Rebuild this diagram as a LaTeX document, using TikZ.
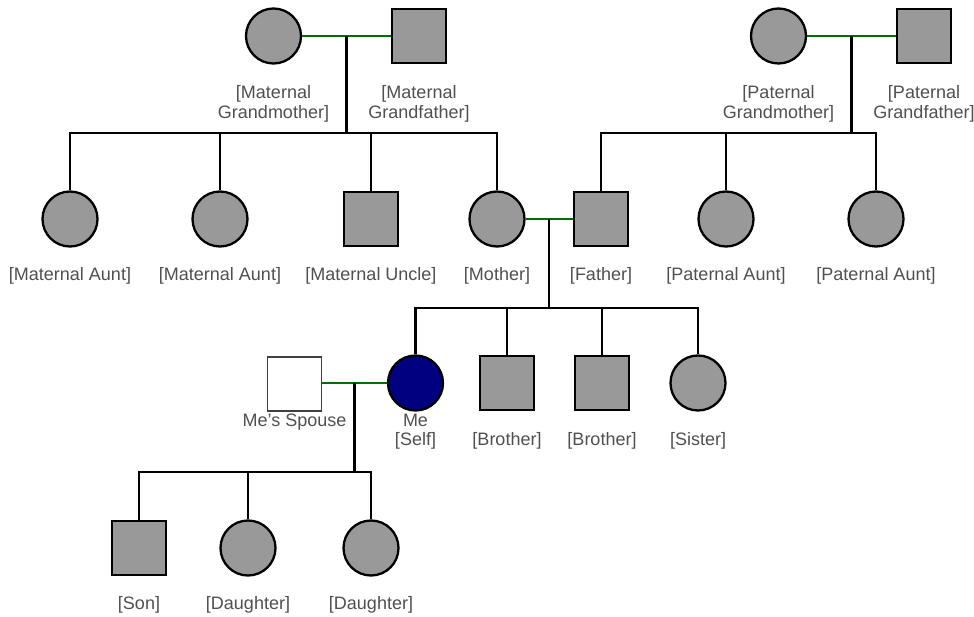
\documentclass[tikz,border=0pt]{standalone}
\usepackage{fontspec}
\setmainfont{Liberation Sans}
\usetikzlibrary{calc}
\definecolor{personfill}{RGB}{153,153,153}
\definecolor{selffill}{RGB}{0,0,128}
\definecolor{marriagegreen}{RGB}{0,110,0}
\definecolor{labelgray}{RGB}{80,80,80}
\tikzset{
  female/.style={circle,draw=black,line width=2.3pt,fill=personfill,minimum size=55pt,inner sep=0pt},
  male/.style={rectangle,draw=black,line width=2.3pt,fill=personfill,minimum size=54pt,inner sep=0pt},
  selfnode/.style={female,fill=selffill},
  spousenode/.style={male,fill=white,draw=black!75,line width=1.4pt},
  lbl/.style={text=labelgray,font=\fontsize{18}{19.5}\selectfont,align=center,inner sep=0pt},
  marriage/.style={draw=marriagegreen,line width=2.3pt},
  kin/.style={draw=black,line width=2.3pt}
}
\begin{document}
\begin{tikzpicture}[x=1pt,y=-1pt]
\useasboundingbox[fill=white] (0,0) rectangle (974,617);

% grandparents
\node[female] (mgm) at (273.5,36) {};
\node[male]   (mgf) at (419,36) {};
\node[female] (pgm) at (778.5,36) {};
\node[male]   (pgf) at (924,36) {};
\node[lbl] (mgmL) at (273.5,104) {[Maternal\\Grandmother]};
\node[lbl] (mgfL) at (419,104) {[Maternal\\Grandfather]};
\node[lbl] (pgmL) at (778.5,104) {[Paternal\\Grandmother]};
\node[lbl] (pgfL) at (924,104) {[Paternal\\Grandfather]};

% parents' generation
\node[female] (ma1)    at (70,219) {};
\node[female] (ma2)    at (220,219) {};
\node[male]   (mu)     at (371,219) {};
\node[female] (mother) at (497,219) {};
\node[male]   (father) at (601,219) {};
\node[female] (pa1)    at (726,219) {};
\node[female] (pa2)    at (876,219) {};
\node[lbl] (ma1L)    at (70,276)  {[Maternal Aunt]};
\node[lbl] (ma2L)    at (220,276) {[Maternal Aunt]};
\node[lbl] (muL)     at (371,276) {[Maternal Uncle]};
\node[lbl] (motherL) at (497,276) {[Mother]};
\node[lbl] (fatherL) at (601,276) {[Father]};
\node[lbl] (pa1L)    at (726,276) {[Paternal Aunt]};
\node[lbl] (pa2L)    at (876,276) {[Paternal Aunt]};

% own generation
\node[spousenode] (spouse) at (294.5,384) {};
\node[selfnode]   (me)     at (415.5,383) {};
\node[male]       (b1)     at (507,383) {};
\node[male]       (b2)     at (602,383) {};
\node[female]     (sis)    at (698,383) {};
\node[lbl] (spouseL) at (294.5,422) {Me’s Spouse};
\node[lbl] (meL)     at (415.5,431.5) {Me\\{[Self]}};
\node[lbl] (b1L)     at (507,441) {[Brother]};
\node[lbl] (b2L)     at (602,441) {[Brother]};
\node[lbl] (sisL)    at (698,441) {[Sister]};

% children
\node[male]   (son) at (139,548) {};
\node[female] (d1)  at (248,548) {};
\node[female] (d2)  at (371,548) {};
\node[lbl] (sonL) at (139,605) {[Son]};
\node[lbl] (d1L)  at (248,605) {[Daughter]};
\node[lbl] (d2L)  at (371,605) {[Daughter]};

% marriages and their junction points
\draw[marriage] (mgm.east) -- (mgf.west);
\draw[marriage] (pgm.east) -- (pgf.west);
\draw[marriage] (mother.east) -- (father.west);
\draw[marriage] (spouse.east |- me) -- (me.west);
\coordinate (mj) at ($(mgm.east)!0.5!(mgf.west)$);
\coordinate (pj) at ($(pgm.east)!0.5!(pgf.west)$);
\coordinate (fj) at ($(mother.east)!0.5!(father.west)$);
\coordinate (sj) at ($(spouse.east |- me)!0.5!(me.west)$);

% sibship lines
\coordinate (mbar) at (0,133);
\coordinate (pbar) at (0,133);
\coordinate (fbar) at (0,308);
\coordinate (sbar) at (0,472);

\draw[kin] (mj) -- (mj |- mbar);
\draw[kin] (ma1.north) |- (mother.north |- mbar) -- (mother.north);
\draw[kin] (ma2.north) -- (ma2.north |- mbar);
\draw[kin] (mu.north) -- (mu.north |- mbar);

\draw[kin] (pj) -- (pj |- pbar);
\draw[kin] (father.north) |- (pa2.north |- pbar) -- (pa2.north);
\draw[kin] (pa1.north) -- (pa1.north |- pbar);

\draw[kin] (fj) -- (fj |- fbar);
\draw[kin] (me.north) |- (sis.north |- fbar) -- (sis.north);
\draw[kin] (b1.north) -- (b1.north |- fbar);
\draw[kin] (b2.north) -- (b2.north |- fbar);

\draw[kin] (sj) -- (sj |- sbar);
\draw[kin] (son.north) |- (d2.north |- sbar) -- (d2.north);
\draw[kin] (d1.north) -- (d1.north |- sbar);
\end{tikzpicture}
\end{document}
